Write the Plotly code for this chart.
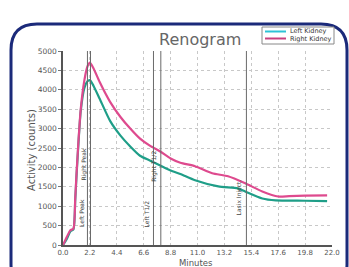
import plotly.graph_objects as go

# ---- data ----
right_time = [0.0, 0.3, 0.6, 0.85, 1.0, 1.1, 1.25, 1.45, 1.75, 2.0, 2.2, 2.5, 3.0, 3.85, 4.7,
              5.5, 6.3, 7.1, 7.95, 8.8, 9.6, 10.8, 12.2, 13.5, 14.9, 16.3, 17.6, 18.5, 19.8, 21.6]
right_kidney = [0, 200, 380, 420, 1200, 1800, 2600, 3500, 4250, 4600, 4700, 4550, 4200, 3690, 3300,
                3000, 2740, 2560, 2410, 2230, 2120, 2030, 1850, 1770, 1590, 1380, 1250, 1260, 1270, 1280]
left_time = [0.0, 0.3, 0.6, 0.85, 1.0, 1.1, 1.25, 1.45, 1.75, 2.0, 2.2, 2.5, 3.0, 3.85, 4.7,
             5.5, 6.3, 7.1, 7.95, 8.8, 9.6, 10.8, 12.7, 14.3, 14.9, 16.3, 17.4, 18.5, 19.8, 21.6]
left_kidney = [0, 150, 350, 400, 1150, 1750, 2550, 3450, 4050, 4220, 4250, 4100, 3770, 3200, 2820,
               2540, 2300, 2180, 2050, 1920, 1830, 1670, 1510, 1460, 1380, 1200, 1150, 1145, 1140, 1130]
marker_times = [2.0, 2.25, 7.4, 8.0, 15.0]
marker_labels = ["Left Peak", "Right Peak", "Left T1/2", "Right T1/2", "Lasix Inject."]
x_ticks = [0.0, 2.2, 4.4, 6.6, 8.8, 11.0, 13.2, 15.4, 17.6, 19.8, 22.0]
y_ticks = [0, 500, 1000, 1500, 2000, 2500, 3000, 3500, 4000, 4500, 5000]
series_names = ["Left Kidney", "Right Kidney"]

# ---- style ----
W, H = 349, 267
L, R, T, B = 63, 332, 51, 245
label_y_pix = [(214, 244), (145, 185), (214, 244), (150, 182), (198, 236)]
teal = "#1f9e88"
magenta = "#de4a8e"
legend_cols = ["#2ec3d6", "#c8407e"]


def px(x):
    return (x - L) / (R - L)


def py(y):
    return (B - y) / (B - T)


fig = go.Figure()
fig.add_trace(go.Scatter(x=left_time, y=left_kidney, mode="lines", line=dict(color=teal, width=2.2, shape="spline", smoothing=0.6),
                         name=series_names[0], showlegend=False))
fig.add_trace(go.Scatter(x=right_time, y=right_kidney, mode="lines", line=dict(color=magenta, width=2.2, shape="spline", smoothing=0.6),
                         name=series_names[1], showlegend=False))

shapes = []
annotations = []
for t, lab, (y0, y1) in zip(marker_times, marker_labels, label_y_pix):
    shapes.append(dict(type="line", xref="x", yref="paper", x0=t, x1=t, y0=0, y1=1,
                       line=dict(color="#6a6a6a", width=1)))
    annotations.append(dict(xref="x", yref="paper", x=t, y=py((y0 + y1) / 2), text=lab, showarrow=False,
                            textangle=-90, xanchor="right", xshift=-1, font=dict(size=6, color="#444", family="DejaVu Sans")))

# rounded frame
x0f, y0f, x1f, y1f, r = 11, 24, 347, 290, 26
path = (f"M {px(x0f+r)},{py(y0f)} L {px(x1f-r)},{py(y0f)} Q {px(x1f)},{py(y0f)} {px(x1f)},{py(y0f+r)} "
        f"L {px(x1f)},{py(y1f-r)} Q {px(x1f)},{py(y1f)} {px(x1f-r)},{py(y1f)} L {px(x0f+r)},{py(y1f)} "
        f"Q {px(x0f)},{py(y1f)} {px(x0f)},{py(y1f-r)} L {px(x0f)},{py(y0f+r)} Q {px(x0f)},{py(y0f)} {px(x0f+r)},{py(y0f)} Z")
shapes.append(dict(type="path", xref="paper", yref="paper", path=path, line=dict(color="#1b2a7a", width=3), layer="below"))

# custom legend
shapes.append(dict(type="rect", xref="paper", yref="paper", x0=px(262), x1=px(334), y0=py(44), y1=py(27),
                   line=dict(color="#888", width=1), fillcolor="white"))
for i, (name, col) in enumerate(zip(series_names, legend_cols)):
    yy = 31.5 + i * 7
    shapes.append(dict(type="line", xref="paper", yref="paper", x0=px(265), x1=px(286), y0=py(yy), y1=py(yy),
                       line=dict(color=col, width=2)))
    annotations.append(dict(xref="paper", yref="paper", x=px(288), y=py(yy), text=name, showarrow=False,
                            xanchor="left", yanchor="middle", font=dict(size=6.5, color="#333", family="DejaVu Sans")))

annotations.append(dict(xref="paper", yref="paper", x=px(200), y=py(39), text="Renogram", showarrow=False,
                        xanchor="center", yanchor="middle", font=dict(size=16, color="#666", family="DejaVu Sans")))
annotations.append(dict(xref="paper", yref="paper", x=px(31), y=py(150), text="Activity (counts)", showarrow=False,
                        textangle=-90, xanchor="center", yanchor="middle", font=dict(size=10, color="#555", family="DejaVu Sans")))
annotations.append(dict(xref="paper", yref="paper", x=px(196), y=py(262.5), text="Minutes", showarrow=False,
                        xanchor="center", yanchor="middle", font=dict(size=8.5, color="#555", family="DejaVu Sans")))

fig.update_layout(
    width=W, height=H, margin=dict(l=L, r=W - R, t=T, b=H - B, autoexpand=False),
    paper_bgcolor="white", plot_bgcolor="white",
    shapes=shapes, annotations=annotations, showlegend=False,
    xaxis=dict(range=[0, 22], tickvals=x_ticks, ticktext=[f"{v:.1f}" for v in x_ticks], automargin=False,
               showgrid=True, gridcolor="#c8c8c8", griddash="dot", gridwidth=1,
               showline=True, linecolor="#555", linewidth=1.5, ticks="", zeroline=False, ticklabelstandoff=0,
               tickfont=dict(size=7, color="#555", family="DejaVu Sans")),
    yaxis=dict(range=[0, 5000], tickvals=y_ticks, automargin=False,
               showgrid=True, gridcolor="#c8c8c8", griddash="dot", gridwidth=1,
               showline=True, linecolor="#555", linewidth=1.5, ticks="outside", ticklen=3, tickcolor="#777",
               zeroline=False, mirror=False,
               tickfont=dict(size=7.5, color="#555", family="DejaVu Sans")),
)

fig.write_html("out.html", config={"displayModeBar": False},
               post_script="document.body.style.margin='0';document.body.style.overflow='hidden';")
